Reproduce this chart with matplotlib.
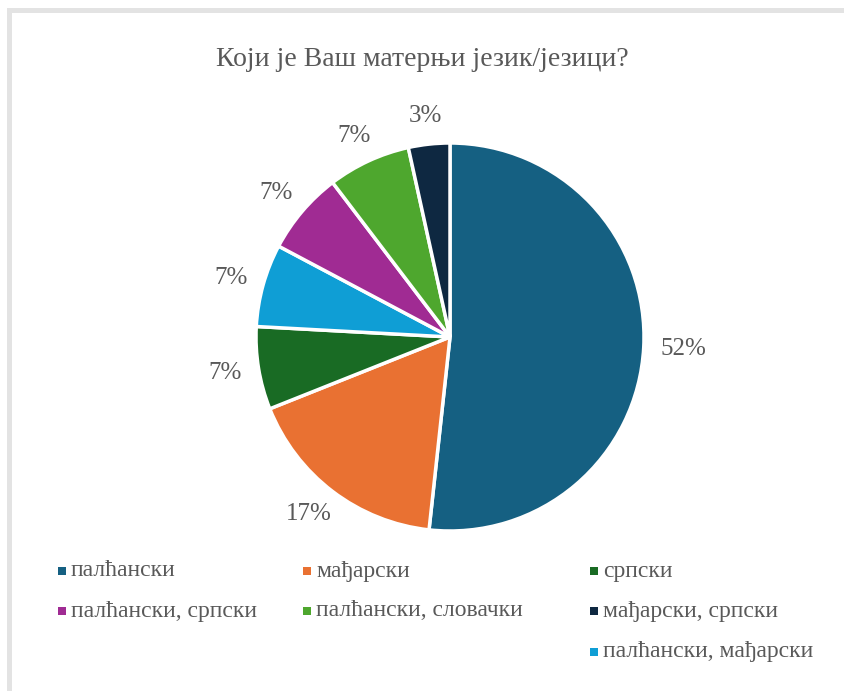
import numpy as np
import matplotlib.pyplot as plt
from matplotlib.patches import Rectangle

# respondents per answer (29 total)
categories = ['палћански', 'мађарски', 'српски', 'палћански, мађарски',
              'палћански, српски', 'палћански, словачки', 'мађарски, српски']
counts = [15, 5, 2, 2, 2, 2, 1]
colors = ['#156082', '#E97132', '#196B24', '#0F9ED5', '#A02B93', '#4EA72E', '#0E2841']
legend_order = ['палћански', 'мађарски', 'српски', 'палћански, српски',
                'палћански, словачки', 'мађарски, српски', 'палћански, мађарски']
title = 'Који је Ваш матерњи језик/језици?'

W, H = 844, 691
text_color = '#595959'
plt.rcParams['font.family'] = ['Liberation Serif', 'DejaVu Serif']

fig = plt.figure(figsize=(W / 100, H / 100), dpi=100)

# light gray frame on top and left edges
fig.patches.append(Rectangle((7 / W, 0), 5 / W, (H - 8) / H, transform=fig.transFigure,
                             facecolor='#e3e3e3', edgecolor='none'))
fig.patches.append(Rectangle((7 / W, (H - 13) / H), (W - 7) / W, 5 / H, transform=fig.transFigure,
                             facecolor='#e3e3e3', edgecolor='none'))

cx, cy, r = 450, 337, 194
ax = fig.add_axes([(cx - r) / W, (H - cy - r) / H, 2 * r / W, 2 * r / H])
wedges, _, autotexts = ax.pie(counts, colors=colors, startangle=90, counterclock=False,
                              autopct=lambda p: f'{p:.0f}%', pctdistance=1.2,
                              wedgeprops=dict(edgecolor='white', linewidth=2.5),
                              textprops=dict(color=text_color, fontsize=18))
ax.set_xlim(-1, 1)
ax.set_ylim(-1, 1)
ax.set_aspect('equal')
ax.axis('off')

# place labels "outside end": text box sits just beyond the rim
fig.canvas.draw()
renderer = fig.canvas.get_renderer()
gap = 17
for w, t in zip(wedges, autotexts):
    ang = np.deg2rad((w.theta1 + w.theta2) / 2)
    bb = t.get_window_extent(renderer)
    dx = (r + gap) * np.cos(ang) + bb.width / 2 * np.cos(ang)
    dy = (r + gap) * np.sin(ang) + bb.height / 2 * np.sin(ang)
    t.set_position((dx / r, dy / r))
    t.set_ha('center')
    t.set_va('center')

fig.text(0.5, 1 - 60 / H, title, ha='center', va='center', fontsize=20, color=text_color)

# legend laid out like the original: 3 columns, last item under column 3
col_x = [62, 307, 594]
row_y = [571, 611, 652]
slots = [(0, 0), (1, 0), (2, 0), (0, 1), (1, 1), (2, 1), (2, 2)]
for name, (c, rr) in zip(legend_order, slots):
    col = colors[categories.index(name)]
    x, y = col_x[c], row_y[rr]
    fig.patches.append(Rectangle(((x - 4) / W, (H - y - 4) / H), 8 / W, 8 / H,
                                 transform=fig.transFigure, facecolor=col, edgecolor='none'))
    fig.text((x + 9) / W, 1 - y / H, name, ha='left', va='center',
             fontsize=17, color=text_color)

fig.savefig('out.png', dpi=100)
